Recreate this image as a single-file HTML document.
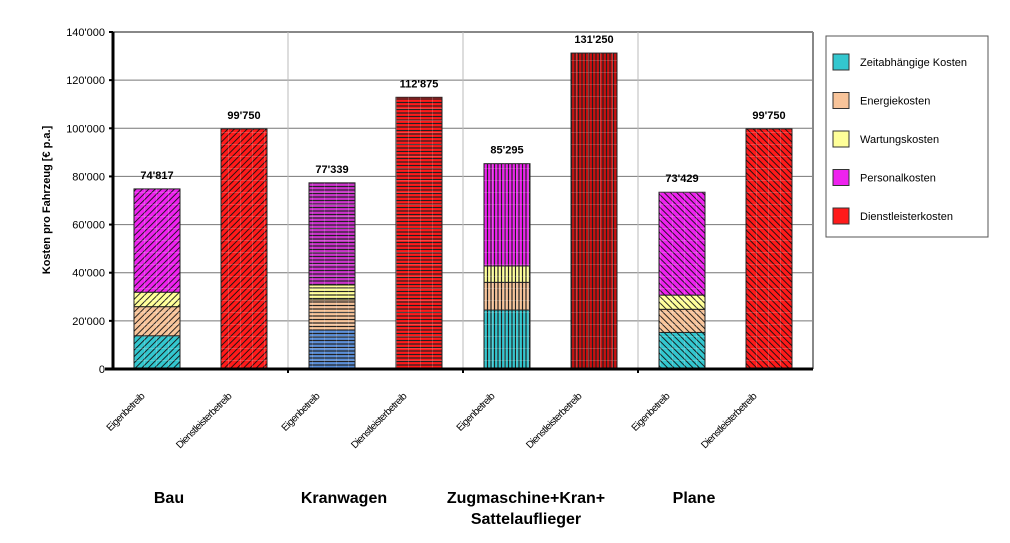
<!DOCTYPE html>
<html><head><meta charset="utf-8"><style>
body{margin:0;background:#fff;}
svg{display:block;font-family:"Liberation Sans",Arial,sans-serif;}
</style></head><body>
<svg id="c" width="1010" height="543" viewBox="0 0 1010 543">
<defs>
<pattern id="pd" width="4.5" height="4.5" patternUnits="userSpaceOnUse" patternTransform="rotate(45)"><line x1="0" y1="0" x2="0" y2="4.5" stroke="#111" stroke-width="1.8"/></pattern>
<pattern id="pb" width="4.5" height="4.5" patternUnits="userSpaceOnUse" patternTransform="rotate(-45)"><line x1="0" y1="0" x2="0" y2="4.5" stroke="#111" stroke-width="1.8"/></pattern>
<pattern id="ph" width="5" height="3.5" patternUnits="userSpaceOnUse"><line x1="0" y1="1" x2="5" y2="1" stroke="#222" stroke-width="1.2"/></pattern>
<pattern id="pv" width="3.5" height="5" patternUnits="userSpaceOnUse"><line x1="1" y1="0" x2="1" y2="5" stroke="#222" stroke-width="1.2"/></pattern>
<pattern id="grid" width="12" height="12" patternUnits="userSpaceOnUse"><path d="M0 0H12M0 0V12" stroke="rgba(255,255,255,0.35)" stroke-width="1"/></pattern>
</defs>
<g id="plot"></g>
<text transform="translate(50,200) rotate(-90)" text-anchor="middle" font-size="11" font-weight="bold">Kosten pro Fahrzeug [€ p.a.]</text>
<g>
<rect x="826" y="36" width="162" height="201" fill="#fff" stroke="#555" stroke-width="1"/>
</g>
<g id="leg"></g>
</svg>
<script>
const categories=["Bau","Kranwagen","Zugmaschine+Kran+\nSattelauflieger","Plane"];
const seriesNames=["Zeitabhängige Kosten","Energiekosten","Wartungskosten","Personalkosten","Dienstleisterkosten"];
const zeitabh=[13800,16200,24500,15200];
const energie=[12100,12500,11500,9600];
const wartung=[6000,6200,6800,5900];
const totals=[74817,77339,85295,73429];
const dienst=[99750,112875,131250,99750];
const totalLabels=["74'817","77'339","85'295","73'429"];
const dienstLabels=["99'750","112'875","131'250","99'750"];
const yTicks=[0,20000,40000,60000,80000,100000,120000,140000];
const yTickLabels=["0","20'000","40'000","60'000","80'000","100'000","120'000","140'000"];

const colors=["#33c7cf","#f8c49a","#ffff99","#ee22ee","#ff1a1a"];
const eigenColorsKran=["#5b8fd8","#f8c49a","#ffff99","#cc33cc"];
const pats=["pd","ph","pv","pb"];
const X0=113,X1=813,Y0=369,Y1=32,YMAX=140000;
const y=v=>Y0-(v/YMAX)*(Y0-Y1);
const groupW=(X1-X0)/categories.length;
const barX=(g,i)=>X0+g*groupW+21+i*87;
const BW=46;
const NS="http://www.w3.org/2000/svg";
const plot=document.getElementById('plot');
function mk(tag,attrs,parent){const e=document.createElementNS(NS,tag);for(const k in attrs)e.setAttribute(k,attrs[k]);(parent||plot).appendChild(e);return e;}

yTicks.forEach((t,i)=>{
  if(t>0){const l=mk('line',{x1:X0,x2:X1,y1:y(t),y2:y(t),stroke:i===yTicks.length-1?'#888':'#777','stroke-width':i===yTicks.length-1?2:1});
  
  }
  const tk=mk('line',{x1:X0-4,x2:X0,y1:y(t),y2:y(t),stroke:'#000','stroke-width':2});
  
  
  const tx=mk('text',{x:X0-8,y:y(t)+4,'text-anchor':'end','font-size':11});
  tx.textContent=yTickLabels[i];
  
  
});
for(let g=1;g<categories.length;g++){
  const l=mk('line',{x1:X0+g*groupW,x2:X0+g*groupW,y1:Y1,y2:Y0,stroke:'#bbb','stroke-width':1});
  
  
  const t=mk('line',{x1:X0+g*groupW,x2:X0+g*groupW,y1:Y0,y2:Y0+4,stroke:'#000','stroke-width':2});
  
  
}
mk('line',{x1:X1,x2:X1,y1:Y1,y2:Y0,stroke:'#888','stroke-width':2});

categories.forEach((cat,g)=>{
  const xe=barX(g,0),xd=barX(g,1);
  const vals=[zeitabh[g],energie[g],wartung[g],totals[g]-zeitabh[g]-energie[g]-wartung[g]];
  let acc=0;
  vals.forEach((v,s)=>{
    const c=(g===1?eigenColorsKran:colors)[s];
    const top=y(acc+v),bot=y(acc);
    const r=mk('rect',{x:xe,y:top,width:BW,height:bot-top,fill:c,stroke:'#222','stroke-width':1});
    
    
    mk('rect',{x:xe,y:top,width:BW,height:bot-top,fill:'url(#'+pats[g]+')'});
    mk('rect',{x:xe,y:top,width:BW,height:bot-top,fill:'url(#grid)'});
    acc+=v;
  });
  const dc=g===2?'#c81010':'#ff1a1a';
  const r=mk('rect',{x:xd,y:y(dienst[g]),width:BW,height:Y0-y(dienst[g]),fill:dc,stroke:'#222','stroke-width':1});
  
  
  mk('rect',{x:xd,y:y(dienst[g]),width:BW,height:Y0-y(dienst[g]),fill:'url(#'+pats[g]+')'});
  mk('rect',{x:xd,y:y(dienst[g]),width:BW,height:Y0-y(dienst[g]),fill:'url(#grid)'});
  const t1=mk('text',{x:xe+BW/2,y:y(totals[g])-10,'text-anchor':'middle','font-size':11,'font-weight':'bold'});
  t1.textContent=totalLabels[g];
  
  
  const t2=mk('text',{x:xd+BW/2,y:y(dienst[g])-10,'text-anchor':'middle','font-size':11,'font-weight':'bold'});
  t2.textContent=dienstLabels[g];
  
  
  [["Eigenbetreib",xe],["Dienstleisterbetreib",xd]].forEach(([s,x])=>{
    const t=mk('text',{transform:`translate(${x+BW/2-12},${Y0+28}) rotate(-45)`,'text-anchor':'end','font-size':10,'letter-spacing':'-0.6'});
    t.textContent=s;
    
    
  });
  const lines=cat.split('\n');
  lines.forEach((ln,k)=>{
    const cx=X0+g*groupW+(g===2?63:56);
    const t=mk('text',{x:cx,y:503+k*21,'text-anchor':'middle','font-size':16,'font-weight':'bold'});
    t.textContent=ln;
    
    
  });
});
mk('line',{x1:X0,x2:X0,y1:Y1,y2:Y0+1,stroke:'#000','stroke-width':3});
mk('line',{x1:X0-8,x2:X1,y1:Y0,y2:Y0,stroke:'#000','stroke-width':3});

const leg=document.getElementById('leg');
seriesNames.forEach((n,i)=>{
  const yy=62+i*38.5;
  const r=mk('rect',{x:833,y:yy-8,width:16,height:16,fill:colors[i],stroke:'#333','stroke-width':1},leg);
  
  
  const t=mk('text',{x:860,y:yy+4,'font-size':11},leg);
  t.textContent=n;
  
  
});
</script>
</body></html>
